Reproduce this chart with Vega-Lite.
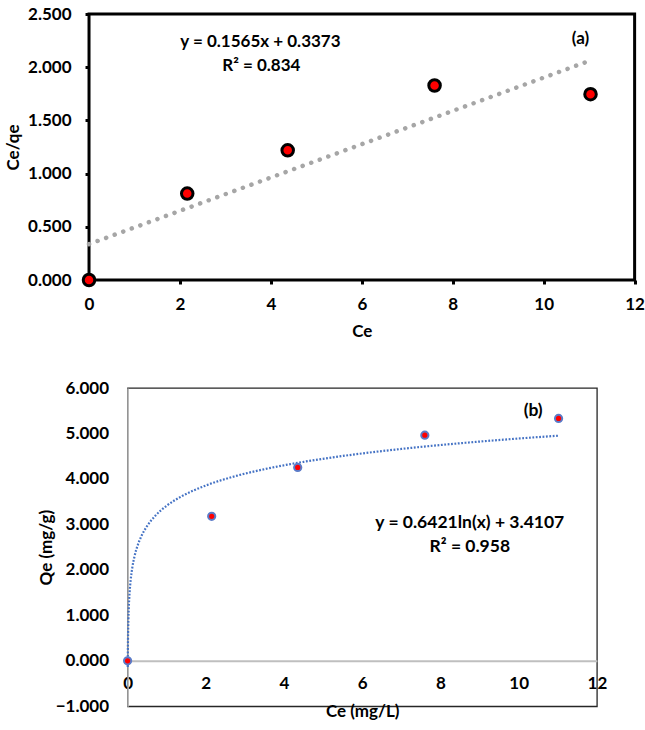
{
  "$schema": "https://vega.github.io/schema/vega-lite/v6.json",
  "padding": {"top": 3, "left": 3, "right": 0, "bottom": 0},
  "background": "white",
  "center": true,
  "spacing": 37,
  "config": {
    "font": "Lato",
    "axis": {
      "labelFont": "Lato", "labelFontSize": 17, "labelFontWeight": "bold", "labelColor": "black",
      "titleFont": "Lato", "titleFontSize": 17, "titleFontWeight": "bold", "titleColor": "black",
      "grid": false, "labelFlush": false, "labelOverlap": false
    }
  },
  "datasets": {
    "linear": [
      {"Ce": 0, "CeQe": 0},
      {"Ce": 2.16, "CeQe": 0.812},
      {"Ce": 4.37, "CeQe": 1.219},
      {"Ce": 7.6, "CeQe": 1.828},
      {"Ce": 11.03, "CeQe": 1.746}
    ],
    "linearTrend": [
      {"Ce": 0, "CeQe": 0.3373},
      {"Ce": 11.02, "CeQe": 2.062}
    ],
    "labelsA": [
      {"text": "y = 0.1565x + 0.3373", "Ce": 3.77, "CeQe": 2.234},
      {"text": "R² = 0.834", "Ce": 3.79, "CeQe": 2.015},
      {"text": "(a)", "Ce": 10.81, "CeQe": 2.265}
    ],
    "log": [
      {"Ce": 0, "Qe": 0},
      {"Ce": 2.15, "Qe": 3.179},
      {"Ce": 4.35, "Qe": 4.253},
      {"Ce": 7.6, "Qe": 4.962},
      {"Ce": 11.02, "Qe": 5.33}
    ],
    "logTrend": [
      {"Ce": 0.004, "Qe": -0.134},
      {"Ce": 0.006, "Qe": 0.126},
      {"Ce": 0.01, "Qe": 0.454},
      {"Ce": 0.02, "Qe": 0.899},
      {"Ce": 0.03, "Qe": 1.159},
      {"Ce": 0.05, "Qe": 1.487},
      {"Ce": 0.08, "Qe": 1.789},
      {"Ce": 0.12, "Qe": 2.049},
      {"Ce": 0.18, "Qe": 2.31},
      {"Ce": 0.25, "Qe": 2.521},
      {"Ce": 0.35, "Qe": 2.737},
      {"Ce": 0.5, "Qe": 2.966},
      {"Ce": 0.7, "Qe": 3.182},
      {"Ce": 1, "Qe": 3.411},
      {"Ce": 1.4, "Qe": 3.627},
      {"Ce": 2, "Qe": 3.856},
      {"Ce": 2.7, "Qe": 4.049},
      {"Ce": 3.5, "Qe": 4.215},
      {"Ce": 4.5, "Qe": 4.376},
      {"Ce": 5.5, "Qe": 4.505},
      {"Ce": 7, "Qe": 4.66},
      {"Ce": 8.5, "Qe": 4.785},
      {"Ce": 10, "Qe": 4.889},
      {"Ce": 11.03, "Qe": 4.952}
    ],
    "labelsB": [
      {"text": "(b)", "Ce": 10.37, "Qe": 5.5},
      {"text": "y = 0.6421ln(x) + 3.4107", "Ce": 8.75, "Qe": 3.03},
      {"text": "R² = 0.958", "Ce": 8.75, "Qe": 2.5}
    ]
  },
  "vconcat": [
    {
      "width": 545.6,
      "height": 266,
      "view": {"stroke": "black", "strokeWidth": 3},
      "encoding": {
        "x": {
          "field": "Ce", "type": "quantitative",
          "scale": {"domain": [0, 12], "nice": false},
          "axis": {
            "values": [0, 2, 4, 6, 8, 10, 12], "format": "d",
            "domain": false, "ticks": true, "tickSize": 4, "tickWidth": 3, "tickColor": "black",
            "labelPadding": 12, "labelFontWeight": "bold", "title": "Ce", "titlePadding": 11
          }
        },
        "y": {
          "field": "CeQe", "type": "quantitative",
          "scale": {"domain": [0, 2.5], "nice": false},
          "axis": {
            "values": [0, 0.5, 1, 1.5, 2, 2.5], "format": ".3f",
            "domain": false, "ticks": true, "tickSize": 4, "tickWidth": 3, "tickColor": "black",
            "labelPadding": 14, "labelFontWeight": "bold", "title": "Ce/qe", "titlePadding": 5
          }
        }
      },
      "layer": [
        {
          "data": {"name": "linearTrend"},
          "mark": {"type": "line", "color": "#a6a6a6", "strokeWidth": 4.5, "strokeDash": [0.1, 9], "strokeCap": "round"}
        },
        {
          "data": {"name": "linear"},
          "mark": {"type": "circle", "fill": "#ff0000", "stroke": "black", "strokeWidth": 3, "size": 133, "opacity": 1}
        },
        {
          "data": {"name": "labelsA"},
          "mark": {"type": "text", "font": "Lato", "fontSize": 17, "fontWeight": "bold", "color": "black"},
          "encoding": {"text": {"field": "text", "type": "nominal"}}
        }
      ]
    },
    {
      "width": 469.3,
      "height": 318.3,
      "view": {"stroke": "#262626", "strokeWidth": 1.3},
      "encoding": {
        "x": {
          "field": "Ce", "type": "quantitative",
          "scale": {"domain": [0, 12], "nice": false},
          "axis": {
            "values": [0, 2, 4, 6, 8, 10, 12], "format": "d", "offset": -45.5,
            "domainColor": "#bfbfbf", "domainWidth": 2, "ticks": false,
            "labelPadding": 15, "labelFontWeight": "bold", "title": "Ce (mg/L)", "titlePadding": 12
          }
        },
        "y": {
          "field": "Qe", "type": "quantitative",
          "scale": {"domain": [-1, 6], "nice": false},
          "axis": {
            "values": [-1, 0, 1, 2, 3, 4, 5, 6], "format": ".3f",
            "domainColor": "#bfbfbf", "domainWidth": 1.5, "ticks": false,
            "labelPadding": 19, "labelFontWeight": "bold", "title": "Qe (mg/g)", "titlePadding": 0
          }
        }
      },
      "layer": [
        {
          "data": {"name": "logTrend"},
          "mark": {"type": "line", "color": "#4472c4", "strokeWidth": 2.2, "strokeDash": [1.8, 1.6], "interpolate": "monotone"}
        },
        {
          "data": {"name": "log"},
          "mark": {"type": "circle", "fill": "#ff0000", "stroke": "#5b7bc8", "strokeWidth": 2, "size": 52, "opacity": 1}
        },
        {
          "data": {"name": "labelsB"},
          "mark": {"type": "text", "font": "Lato", "fontSize": 17.5, "fontWeight": "bold", "color": "black"},
          "encoding": {"text": {"field": "text", "type": "nominal"}}
        }
      ]
    }
  ]
}
